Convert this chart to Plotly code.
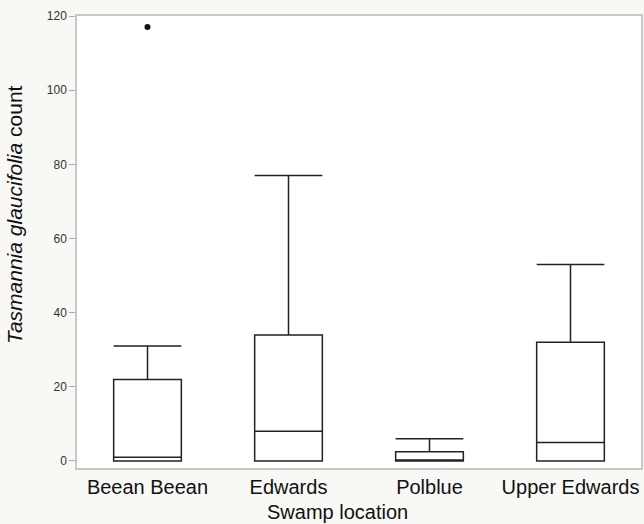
import plotly.graph_objects as go

locations = ["Beean Beean", "Edwards", "Polblue", "Upper Edwards"]
q1 = [0, 0, 0, 0]
medians = [1, 8, 0, 5]
q3 = [22, 34, 2.5, 32]
lower_fence = [0, 0, 0, 0]
upper_fence = [31, 77, 6, 53]
outlier_locations = ["Beean Beean"]
outlier_values = [117]
y_ticks = [0, 20, 40, 60, 80, 100, 120]

FONT = "Liberation Sans, Arial, sans-serif"

fig = go.Figure()
fig.add_trace(go.Box(
    x=locations, q1=q1, median=medians, q3=q3,
    lowerfence=lower_fence, upperfence=upper_fence,
    line=dict(color="#222222", width=1.5),
    fillcolor="rgba(255,255,255,0)",
    width=0.48, whiskerwidth=1, boxpoints=False,
    showlegend=False, hoverinfo="skip",
))
fig.add_trace(go.Scatter(
    x=outlier_locations, y=outlier_values, mode="markers",
    marker=dict(color="#111111", size=6),
    showlegend=False,
))

fig.update_layout(
    width=644, height=524,
    margin=dict(l=77, r=3, t=16, b=56, autoexpand=False),
    paper_bgcolor="#f8f8f5",
    plot_bgcolor="#ffffff",
    font=dict(family=FONT, color="#111111"),
)
fig.update_xaxes(
    type="category", categoryorder="array", categoryarray=locations,
    range=[-0.5, 3.5], automargin=False,
    showgrid=False, zeroline=False,
    showline=True, linecolor="#c8c8c8", linewidth=1.5, mirror=True,
    ticks="", tickfont=dict(size=20, color="#111111"),
)
fig.update_yaxes(
    range=[-1.9, 120], tickvals=y_ticks, automargin=False,
    showgrid=False, zeroline=False,
    showline=True, linecolor="#c8c8c8", linewidth=1.5, mirror=True,
    ticks="outside", ticklen=6, tickcolor="#aaaaaa",
    tickfont=dict(size=12, color="#333333"),
)

fig.add_annotation(
    text="Swamp location", xref="paper", yref="paper",
    x=(337 - 77) / 564, y=-(512 - 468) / 452,
    xanchor="center", yanchor="middle", showarrow=False,
    font=dict(size=20, color="#111111", family=FONT),
)
fig.add_annotation(
    text="<i>Tasmannia glaucifolia</i> count", xref="paper", yref="paper",
    x=(15 - 77) / 564, y=(468 - 215) / 452, textangle=-90,
    xanchor="center", yanchor="middle", showarrow=False,
    font=dict(size=21, color="#111111", family=FONT),
)

fig.write_html(
    "out.html",
    config={"displayModeBar": False},
    post_script="document.body.style.margin='0px';document.body.style.padding='0px';",
)
